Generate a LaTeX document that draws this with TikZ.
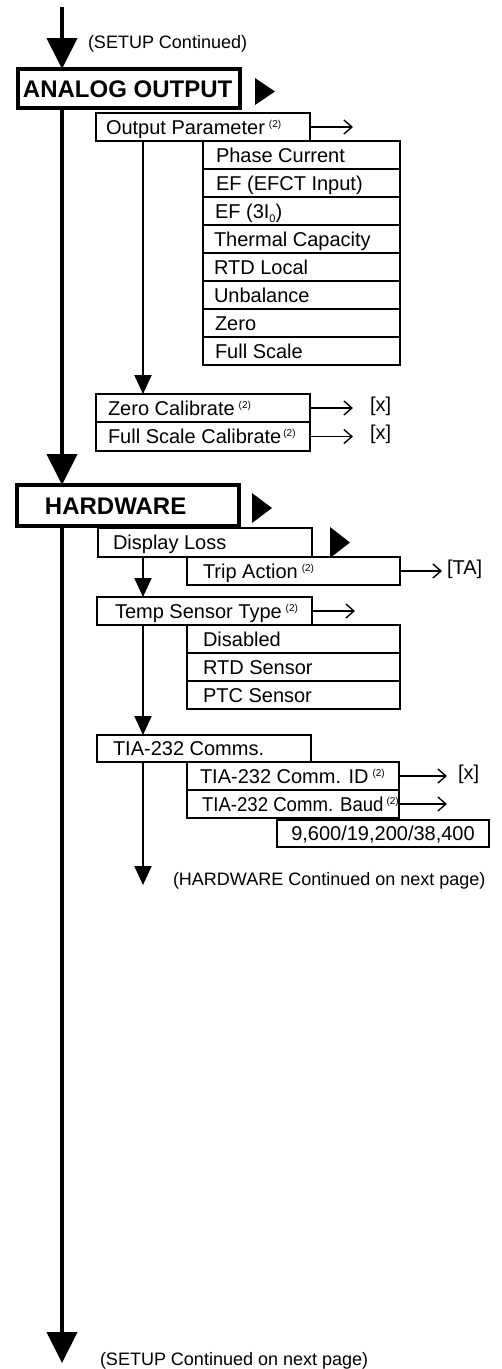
\documentclass[tikz,border=0pt]{standalone}
\usepackage{fontspec}
\setmainfont{Liberation Sans}
\usetikzlibrary{arrows.meta}
\newcommand{\fs}[1]{\fontsize{#1}{#1}\selectfont}
\newcommand{\twosup}{\hspace{4pt}\raisebox{7pt}{\fs{10}(2)}}
\newcommand{\bstrut}{\rule[-1.6pt]{0pt}{17.6pt}}
\newcommand{\tstrut}{\rule[-2pt]{0pt}{21.2pt}}
\newcommand{\lbox}[3]{\makebox[#1pt][l]{\hspace*{#2pt}\smash{#3}\bstrut}}
\newcommand{\ttlbox}[3]{\makebox[#1pt][l]{\hspace*{#2pt}\smash{\fs{24}\bfseries #3}\tstrut}}
\begin{document}
\begin{tikzpicture}[x=1pt,y=-1pt,
  every node/.style={inner sep=0pt, outer sep=0pt},
  bx/.style={draw, rectangle, anchor=north west, font=\fs{20}},
  titlebox/.style={bx, line width=3.5pt},
  midbox/.style={bx, line width=2.4pt},
  thinbox/.style={bx, line width=1.1pt},
  mainline/.style={line width=4pt, -{Triangle[length=31pt,width=30pt]}},
  subline/.style={line width=2.2pt, -{Triangle[length=19pt,width=17pt]}},
  outarrow/.style={line width=1.4pt, -{Straight Barb[length=8pt,width=14pt]}},
  lbl/.style={anchor=base west, font=\fs{18}},
  res/.style={anchor=west, font=\fs{20}}
]
\useasboundingbox (0,0) rectangle (501,1369);
\coordinate (spine) at (62,0);
\coordinate (sub) at (143,0);
\coordinate (top) at (62,7);
\coordinate (bot) at (62,1363);
\coordinate (hwend) at (143,885);

% labels
\node[lbl] (setupc) at (88,48) {(SETUP Continued)};

% ANALOG OUTPUT section
\node[titlebox, minimum height=39pt] (ao) at (18,69) {\ttlbox{222}{5}{ANALOG OUTPUT}};
\fill (255,78) -- (275,91.5) -- (255,105) -- cycle;
\node[midbox, minimum height=28pt] (op) at (96,113) {\lbox{214}{10}{Output Parameter\twosup}};
\coordinate (opA) at (353,127);
\draw[outarrow] (op.east) -- (opA);

\node[thinbox, minimum height=28pt] (r1) at (203,141) {\lbox{197}{13}{Phase Current}};
\node[thinbox, minimum height=28pt] (r2) at (203,169) {\lbox{197}{13}{EF (EFCT Input)}};
\node[thinbox, minimum height=28pt] (r3) at (203,197) {\lbox{197}{12}{EF (3I\raisebox{-4pt}{\fs{11}0})}};
\node[thinbox, minimum height=28pt] (r4) at (203,225) {\lbox{197}{11}{Thermal Capacity}};
\node[thinbox, minimum height=28pt] (r5) at (203,253) {\lbox{197}{11}{RTD Local}};
\node[thinbox, minimum height=28pt] (r6) at (203,281) {\lbox{197}{11}{Unbalance}};
\node[thinbox, minimum height=28pt] (r7) at (203,309) {\lbox{197}{12}{Zero}};
\node[thinbox, minimum height=28pt] (r8) at (203,337) {\lbox{197}{12}{Full Scale}};

\node[midbox, minimum height=28pt] (zc) at (96,394) {\lbox{214}{12}{Zero Calibrate\twosup}};
\node[midbox, minimum height=29pt] (fc) at (96,422) {\lbox{214}{12}{Full Scale Calibrate\hspace{-2pt}\twosup}};
\coordinate (zcA) at (353,408);
\coordinate (fcA) at (353,436.5);
\draw[outarrow] (zc.east) -- (zcA);
\draw[outarrow] (fc.east) -- (fcA);
\node[res] (zcx) at (370,406) {[x]};
\node[res] (fcx) at (370,434.5) {[x]};

% HARDWARE section
\node[titlebox, minimum height=41pt] (hw) at (17,485) {\ttlbox{222}{28}{HARDWARE}};
\fill (252,493) -- (272,508) -- (252,523) -- cycle;
\node[midbox, minimum height=29pt] (dl) at (98,528) {\lbox{214}{15}{Display Loss}};
\fill (330,527) -- (350,542.5) -- (330,558) -- cycle;
\node[thinbox, minimum height=28pt] (ta) at (187,557) {\lbox{213}{16}{Trip Action\twosup}};
\coordinate (taA) at (442,571);
\draw[outarrow] (ta.east) -- (taA);
\node[res] (tax) at (447,569) {[TA]};

\node[midbox, minimum height=28pt] (ts) at (97,597) {\lbox{215}{18}{Temp Sensor Type\twosup}};
\coordinate (tsA) at (355,611);
\draw[outarrow] (ts.east) -- (tsA);
\node[thinbox, minimum height=28pt] (s1) at (187,625) {\lbox{213}{16}{Disabled}};
\node[thinbox, minimum height=28pt] (s2) at (187,653) {\lbox{213}{16}{RTD Sensor}};
\node[thinbox, minimum height=28pt] (s3) at (187,681) {\lbox{213}{16}{PTC Sensor}};

\node[midbox, minimum height=27pt] (tc) at (97,735) {\lbox{214}{16}{TIA-232 Comms.}};
\node[thinbox, minimum height=28pt] (id) at (187,762) {\lbox{212}{13}{TIA-232 Comm. ID\twosup}};
\coordinate (idA) at (447,776);
\draw[outarrow] (id.east) -- (idA);
\node[res] (idx) at (458,774) {[x]};
\node[thinbox, minimum height=28pt] (bd) at (187,790) {\lbox{212}{15}{\scalebox{0.93}[1]{TIA-232 Comm. Baud}\hspace{-1pt}\twosup}};
\coordinate (bdA) at (447,804);
\draw[outarrow] (bd.east) -- (bdA);
\node[thinbox, minimum height=27pt] (bv) at (277,820) {\makebox[212pt][c]{\smash{9,600/19,200/38,400}\bstrut}};

\node[lbl] (hwc) at (173,885) {(HARDWARE Continued on next page)};
\node[lbl] (setupn) at (100,1365) {(SETUP Continued on next page)};

% connectors
\draw[mainline] (top) -- (spine |- ao.north);
\draw[mainline] (spine |- ao.south) -- (spine |- hw.north);
\draw[mainline] (spine |- hw.south) -- (bot);
\draw[subline] (sub |- op.south) -- (sub |- zc.north);
\draw[subline] (sub |- dl.south) -- (sub |- ts.north);
\draw[subline] (sub |- ts.south) -- (sub |- tc.north);
\draw[subline] (sub |- tc.south) -- (hwend);
\end{tikzpicture}
\end{document}
